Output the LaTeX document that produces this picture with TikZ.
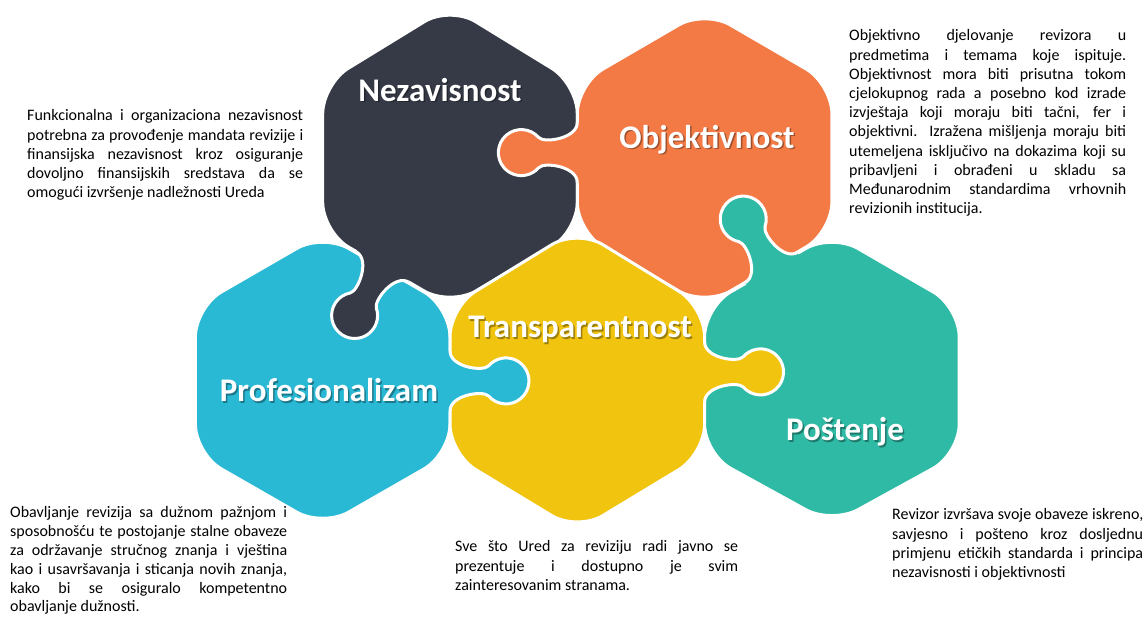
\documentclass[tikz,border=0pt]{standalone}
\usepackage{fontspec}
\setmainfont{Carlito}
\definecolor{nezcol}{HTML}{353A46}
\definecolor{objcol}{HTML}{F37A44}
\definecolor{procol}{HTML}{2AB9D4}
\definecolor{tracol}{HTML}{F1C40F}
\definecolor{poscol}{HTML}{2FBAA5}
\begin{document}
\begin{tikzpicture}[x=1pt, y=-1pt,
  piece/.style={fill=#1, draw=white, line width=3pt, rounded corners=30pt},
  headline/.style={text=white, anchor=base, inner sep=0pt,
    font=\fontsize{33}{38}\selectfont\bfseries},
  headshadow/.style={text=black, opacity=0.35, anchor=base, inner sep=0pt,
    font=\fontsize{33}{38}\selectfont\bfseries},
  note/.style={anchor=north west, inner sep=0pt, align=left,
    font=\fontsize{16}{19.2}\selectfont},
  pics/knob/.style={code={
    \fill[#1] (-30,-5) -- (-30,0) .. controls (-14,0) and (-9,33) .. (-15,38.6)
      arc[start angle=229, end angle=-49, radius=23]
      .. controls (9,33) and (14,0) .. (30,0) -- (30,-5) -- cycle;
    \draw[white, line width=3pt] (-30,0) .. controls (-14,0) and (-9,33) .. (-15,38.6)
      arc[start angle=229, end angle=-49, radius=23]
      .. controls (9,33) and (14,0) .. (30,0);
  }}]
\path[use as bounding box, fill=white] (0,0) rectangle (1148,616);

% upper row
\draw[piece=nezcol] (577.3,158) -- (577.3,232) -- (450,306) -- (322.7,232)
  -- (322.7,84) -- (450,6) -- (577.3,84) -- cycle;
\draw[piece=objcol] (831.9,158) -- (831.9,232) -- (704.6,306) -- (577.3,232)
  -- (577.3,84) -- (704.6,10) -- (831.9,84) -- cycle;

% lower row
\draw[piece=procol] (450,380.5) -- (450,454) -- (322.7,527) -- (195.4,454)
  -- (195.4,307) -- (322.7,233.5) -- (450,307) -- cycle;
\draw[piece=tracol] (704.6,380.5) -- (704.6,454) -- (577.3,531) -- (450,454)
  -- (450,307) -- (577.3,229) -- (704.6,307) -- cycle;
\draw[piece=poscol] (959.2,380.5) -- (959.2,454) -- (831.9,524) -- (704.6,454)
  -- (704.6,307) -- (831.9,233.5) -- (959.2,307) -- cycle;

% puzzle knobs
\pic[rotate=-90] at (577.3,152.5) {knob=objcol};
\pic[rotate=-30] at (382.5,267) {knob=nezcol};
\pic[rotate=-150] at (771.3,267.5) {knob=poscol};
\pic[rotate=90] at (450,381) {knob=procol};
\pic[rotate=90] at (704.6,372) {knob=tracol};

% titles
\node[headshadow] at (441.5,102.5) {Nezavisnost};
\node[headline] (nez-t) at (440,101) {Nezavisnost};
\node[headshadow] at (708.5,149.5) {Objektivnost};
\node[headline] (obj-t) at (707,148) {Objektivnost};
\node[headshadow] at (581.5,339) {Transparentnost};
\node[headline] (tra-t) at (580,337.5) {Transparentnost};
\node[headshadow] at (330.5,403) {Profesionalizam};
\node[headline] (pro-t) at (329,401.5) {Profesionalizam};
\node[headshadow] at (846.5,442) {Poštenje};
\node[headline] (pos-t) at (845,440.5) {Poštenje};

% descriptions
\node[note] (nez-n) at (27,107.2)
{\strut\makebox[276pt][s]{Funkcionalna i organizaciona nezavisnost}\\
\makebox[276pt][s]{potrebna za provođenje mandata revizije i}\\
\makebox[276pt][s]{finansijska nezavisnost kroz osiguranje}\\
\makebox[276pt][s]{dovoljno finansijskih sredstava da se}\\
omogući izvršenje nadležnosti Ureda};

\node[note] (obj-n) at (849,27.2)
{\strut\makebox[277pt][s]{Objektivno djelovanje revizora u}\\
\makebox[277pt][s]{predmetima i temama koje ispituje.}\\
\makebox[277pt][s]{Objektivnost mora biti prisutna tokom}\\
\makebox[277pt][s]{cjelokupnog rada a posebno kod izrade}\\
\makebox[277pt][s]{izvještaja koji moraju biti tačni, fer i}\\
\makebox[277pt][s]{objektivni. Izražena mišljenja moraju biti}\\
\makebox[277pt][s]{utemeljena isključivo na dokazima koji su}\\
\makebox[277pt][s]{pribavljeni i obrađeni u skladu sa}\\
\makebox[277pt][s]{Međunarodnim standardima vrhovnih}\\
revizionih institucija.};

\node[note, font=\fontsize{16}{18.8}\selectfont] (pro-n) at (10,504.5)
{\strut\makebox[277pt][s]{Obavljanje revizija sa dužnom pažnjom i}\\
\makebox[277pt][s]{sposobnošću te postojanje stalne obaveze}\\
\makebox[277pt][s]{za održavanje stručnog znanja i vještina}\\
\makebox[277pt][s]{kao i usavršavanja i sticanja novih znanja,}\\
\makebox[277pt][s]{kako bi se osiguralo kompetentno}\\
obavljanje dužnosti.};

\node[note] (tra-n) at (455,538.2)
{\strut\makebox[283pt][s]{Sve što Ured za reviziju radi javno se}\\
\makebox[283pt][s]{prezentuje i dostupno je svim}\\
zainteresovanim stranama.};

\node[note] (pos-n) at (892,506.2)
{\strut\makebox[251pt][s]{Revizor izvršava svoje obaveze iskreno,}\\
\makebox[251pt][s]{savjesno i pošteno kroz dosljednu}\\
\makebox[251pt][s]{primjenu etičkih standarda i principa}\\
nezavisnosti i objektivnosti};

\end{tikzpicture}
\end{document}
